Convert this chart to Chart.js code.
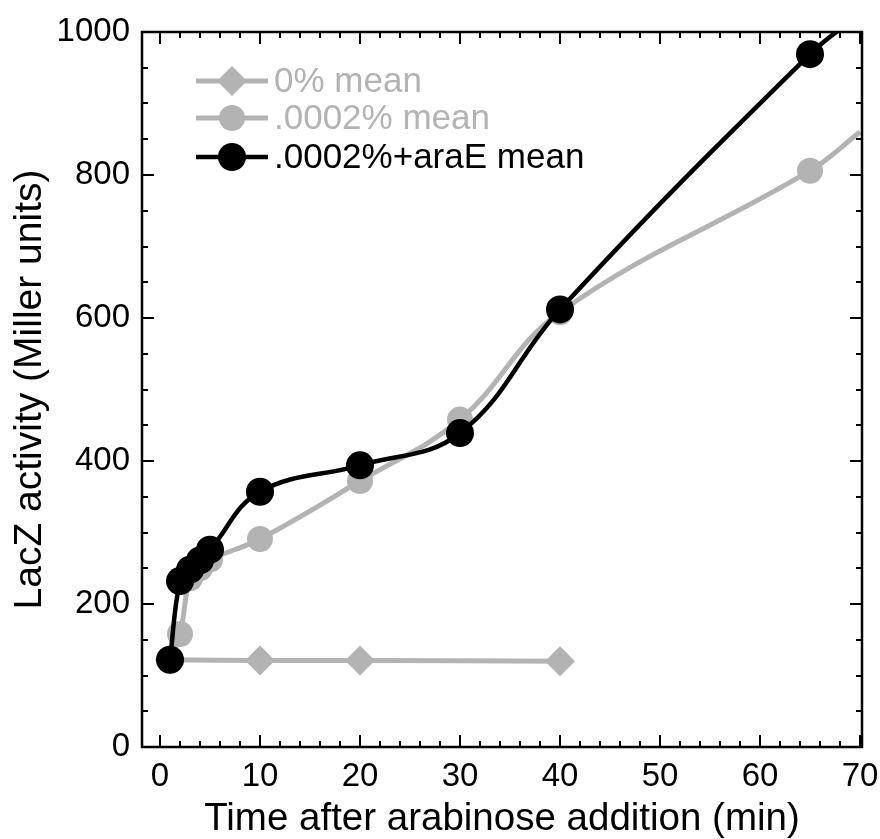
<!DOCTYPE html>
<html>
<head>
<meta charset="utf-8">
<script src="https://cdn.jsdelivr.net/npm/chart.js@4.4.0/dist/chart.umd.min.js"></script>
<style>
    html, body { margin: 0; padding: 0; background: #fff; }
    #wrap { width: 880px; height: 839px; }
</style>
</head>
<body>
<div id="wrap"><canvas id="grafica" width="880" height="839"></canvas></div>
<script>
// tiempos (min) y medias de actividad LacZ (Miller units)
const tiempos = [1, 2, 3, 4, 5, 10, 20, 30, 40, 65, 70];
const tiemposCero = [1, 10, 20, 40];
const cero = [122, 121, 121, 120];
const bajo = [122, 158, 236, 250, 262, 291, 372, 458, 608, 806, 860];
const bajoAraE = [122, 232, 248, 261, 276, 357, 394, 439, 612, 969, 1025];
const etiquetas = ['0% mean', '.0002% mean', '.0002%+araE mean'];
const ticksX = [0, 10, 20, 30, 40, 50, 60, 70];
const ticksY = [0, 200, 400, 600, 800, 1000];

const gris = '#b3b3b3';
const fuente = "'Liberation Sans', Arial, sans-serif";

const puntos = (xs, ys) => xs.map((x, i) => ({ x: x, y: ys[i] }));

// el ultimo punto solo continua la curva hasta el borde, sin marcador
const radio = (r) => (c) => (c.dataIndex === tiempos.length - 1 ? 0 : r);

const series = [
    { label: etiquetas[0], data: puntos(tiemposCero, cero), color: gris, ancho: 5, estilo: 'rectRot', r: 15, order: 2 },
    { label: etiquetas[1], data: puntos(tiempos, bajo), color: gris, ancho: 5, estilo: 'circle', r: 13, order: 1 },
    { label: etiquetas[2], data: puntos(tiempos, bajoAraE), color: '#000', ancho: 4.5, estilo: 'circle', r: 14, order: 0 }
];

const dibujarMarcador = (ctx, estilo, r, x, y) => {
    ctx.beginPath();
    if (estilo === 'rectRot') {
        ctx.moveTo(x - r, y);
        ctx.lineTo(x, y - r);
        ctx.lineTo(x + r, y);
        ctx.lineTo(x, y + r);
        ctx.closePath();
    } else {
        ctx.arc(x, y, r, 0, Math.PI * 2);
    }
    ctx.fill();
};

// marco con ticks hacia dentro en los cuatro lados + leyenda
const marco = {
    id: 'marco',
    afterDatasetsDraw(chart) {
        const { ctx, chartArea: a, scales: { x, y } } = chart;
        ctx.save();
        ctx.strokeStyle = '#000';
        ctx.lineWidth = 2;
        ctx.beginPath();
        const pasoX = (ticksX[1] - ticksX[0]) / 5;
        for (let v = ticksX[0]; v <= ticksX[ticksX.length - 1] + 0.001; v += pasoX) {
            const px = Math.round(x.getPixelForValue(v));
            const largo = Math.abs(v % (pasoX * 5)) < 0.001 ? 12 : 6;
            ctx.moveTo(px, a.bottom);
            ctx.lineTo(px, a.bottom - largo);
            ctx.moveTo(px, a.top);
            ctx.lineTo(px, a.top + largo);
        }
        const pasoY = (ticksY[1] - ticksY[0]) / 4;
        for (let v = ticksY[0]; v <= ticksY[ticksY.length - 1]; v += pasoY) {
            const py = Math.round(y.getPixelForValue(v));
            const largo = v % (pasoY * 4) === 0 ? 12 : 6;
            ctx.moveTo(a.left, py);
            ctx.lineTo(a.left + largo, py);
            ctx.moveTo(a.right, py);
            ctx.lineTo(a.right - largo, py);
        }
        ctx.stroke();
        ctx.lineWidth = 2.5;
        ctx.strokeRect(a.left, a.top, a.right - a.left, a.bottom - a.top);

        // leyenda
        const filas = [49, 86, 125];
        ctx.font = '35px ' + fuente;
        ctx.textBaseline = 'middle';
        ctx.textAlign = 'left';
        series.forEach((s, i) => {
            const fy = a.top + filas[i];
            ctx.strokeStyle = s.color;
            ctx.fillStyle = s.color;
            ctx.lineWidth = s.ancho;
            ctx.beginPath();
            ctx.moveTo(a.left + 54, fy);
            ctx.lineTo(a.left + 126, fy);
            ctx.stroke();
            dibujarMarcador(ctx, s.estilo, s.r, a.left + 90, fy);
            ctx.fillText(s.label, a.left + 132, fy + 1);
        });
        ctx.restore();
    }
};

const ctx = document.getElementById('grafica').getContext('2d');
new Chart(ctx, {
    type: 'line',
    data: {
        datasets: series.map(s => ({
            label: s.label,
            data: s.data,
            borderColor: s.color,
            backgroundColor: s.color,
            pointBackgroundColor: s.color,
            borderWidth: s.ancho,
            pointBorderWidth: 0,
            pointStyle: s.estilo,
            pointRadius: s.label === etiquetas[0] ? s.r : radio(s.r),
            tension: 0.4,
            order: s.order
        }))
    },
    options: {
        responsive: false,
        animation: false,
        layout: { padding: { top: 32, right: 18, left: 0, bottom: 0 } },
        plugins: {
            legend: { display: false },
            tooltip: { enabled: false }
        },
        scales: {
            x: {
                type: 'linear',
                min: -1.8,
                max: 70.2,
                afterBuildTicks: (s) => { s.ticks = ticksX.map(v => ({ value: v })); },
                afterFit: (s) => { s.height = 92; s.paddingLeft = 0; s.paddingRight = 0; },
                grid: { display: false, drawTicks: false },
                border: { display: false },
                ticks: {
                    font: { family: fuente, size: 33 },
                    color: '#000',
                    padding: 10,
                    maxRotation: 0,
                    autoSkip: false,
                    callback: (v) => String(v)
                },
                title: {
                    display: true,
                    text: 'Time after arabinose addition (min)',
                    font: { family: fuente, size: 38.5, lineHeight: 1 },
                    color: '#000',
                    padding: 0
                }
            },
            y: {
                min: 0,
                max: 1000,
                afterBuildTicks: (s) => { s.ticks = ticksY.map(v => ({ value: v })); },
                afterFit: (s) => { s.width = 142; s.paddingTop = 0; s.paddingBottom = 0; },
                grid: { display: false, drawTicks: false },
                border: { display: false },
                ticks: {
                    font: { family: fuente, size: 33 },
                    color: '#000',
                    padding: 12,
                    autoSkip: false,
                    callback: (v) => String(v)
                },
                title: {
                    display: true,
                    text: 'LacZ activity (Miller units)',
                    font: { family: fuente, size: 39, lineHeight: 1 },
                    color: '#000',
                    padding: { top: 11, bottom: 0 }
                }
            }
        }
    },
    plugins: [marco]
});
</script>
</body>
</html>
